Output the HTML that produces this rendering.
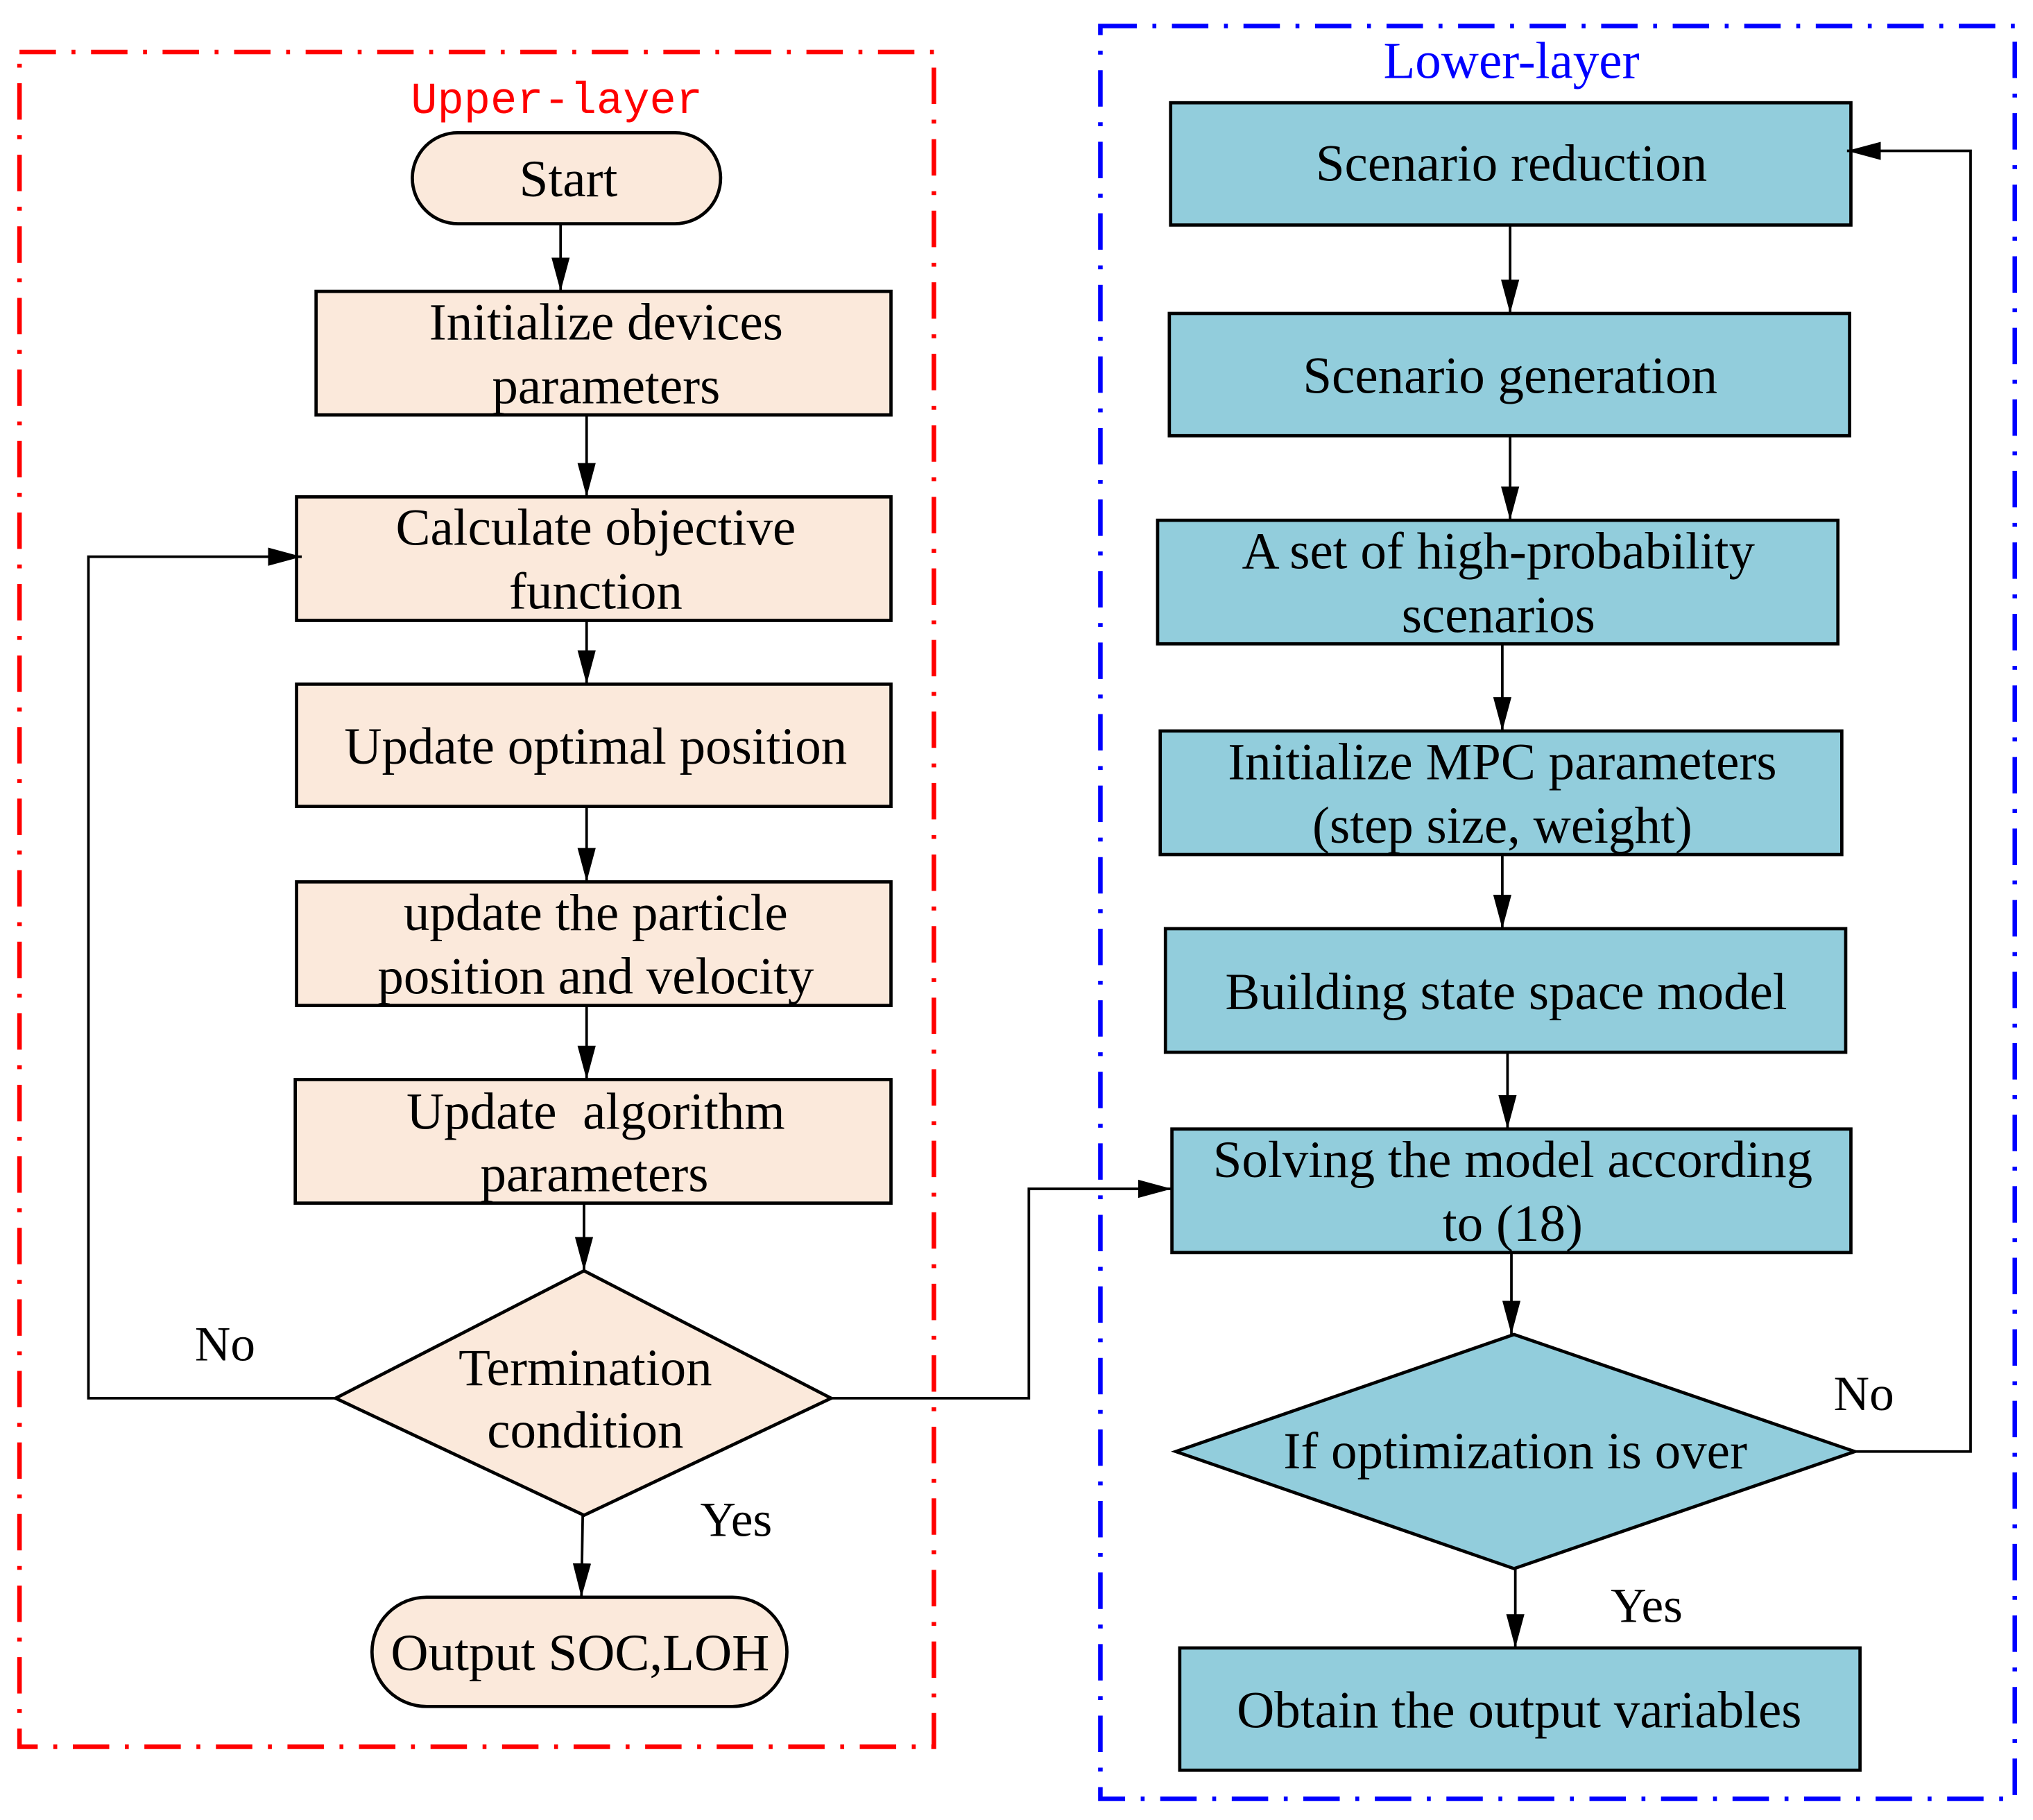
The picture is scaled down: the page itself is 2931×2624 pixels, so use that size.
<!DOCTYPE html>
<html><head><meta charset="utf-8"><style>html,body{margin:0;padding:0;background:#fff}</style></head>
<body>
<svg xmlns="http://www.w3.org/2000/svg" width="2931" height="2619" viewBox="0 0 1563 1396.6">
<defs>
<marker id="b" markerWidth="26" markerHeight="16" refX="26" refY="8" orient="auto" markerUnits="userSpaceOnUse">
<path d="M0,1 L26,8 L0,15 Z" fill="#000"/>
</marker>
</defs>
<g font-family="Liberation Serif, serif" font-size="40" text-anchor="middle" fill="#000">
<rect x="15" y="40" width="703" height="1303" fill="none" stroke="#ff0000" stroke-width="3.5" stroke-dasharray="28,12,3,12"/>
<rect x="846" y="20" width="703" height="1363" fill="none" stroke="#0000ff" stroke-width="3.5" stroke-dasharray="28,12,3,12"/>
<text x="428" y="87" fill="#ff0000" font-size="34" font-family="Liberation Mono, monospace">Upper-layer</text>
<text x="1162" y="60" fill="#0000ff" font-size="40">Lower-layer</text>

<g stroke="#000" stroke-width="2.5" fill="#fbe9db">
<rect x="317" y="102" width="237" height="70" rx="35"/>
<rect x="243" y="224" width="442" height="95"/>
<rect x="228" y="382" width="457" height="95"/>
<rect x="228" y="526" width="457" height="94"/>
<rect x="228" y="678" width="457" height="95"/>
<rect x="227" y="830" width="458" height="95"/>
<polygon points="449,977 639,1075 449,1165 258,1075"/>
<rect x="286" y="1228" width="319" height="84" rx="42"/>
</g>
<g stroke="#000" stroke-width="2.5" fill="#92cddc">
<rect x="900" y="79" width="523" height="94"/>
<rect x="899" y="241" width="523" height="94"/>
<rect x="890" y="400" width="523" height="95"/>
<rect x="892" y="562" width="524" height="95"/>
<rect x="896" y="714" width="523" height="95"/>
<rect x="901" y="868" width="522" height="95"/>
<polygon points="1164,1026 1426,1116 1164,1206 904,1116"/>
<rect x="907" y="1267" width="523" height="94"/>
</g>

<g stroke="#000" stroke-width="2" fill="none" marker-end="url(#b)">
<line x1="431" y1="172" x2="431" y2="224"/>
<line x1="451" y1="319" x2="451" y2="382"/>
<line x1="451" y1="477" x2="451" y2="526"/>
<line x1="451" y1="620" x2="451" y2="678"/>
<line x1="451" y1="773" x2="451" y2="830"/>
<line x1="449" y1="925" x2="449" y2="977"/>
<line x1="448" y1="1165" x2="447" y2="1228"/>
<polyline points="258,1075 68,1075 68,428 232,428"/>
<polyline points="639,1075 791,1075 791,914 901,914"/>
<line x1="1161" y1="173" x2="1161" y2="241"/>
<line x1="1161" y1="335" x2="1161" y2="400"/>
<line x1="1155" y1="495" x2="1155" y2="562"/>
<line x1="1155" y1="657" x2="1155" y2="714"/>
<line x1="1159" y1="809" x2="1159" y2="868"/>
<line x1="1162" y1="963" x2="1162" y2="1026"/>
<line x1="1165" y1="1206" x2="1165" y2="1267"/>
<polyline points="1426,1116 1515,1116 1515,116 1420,116"/>
</g>

<text x="437" y="151">Start</text>
<text x="466" y="261">Initialize devices</text>
<text x="466" y="310">parameters</text>
<text x="458" y="419">Calculate objective</text>
<text x="458" y="468">function</text>
<text x="458" y="587">Update optimal position</text>
<text x="458" y="715">update the particle</text>
<text x="458" y="764">position and velocity</text>
<text x="458" y="868" xml:space="preserve">Update  algorithm</text>
<text x="457" y="916">parameters</text>
<text x="450" y="1065">Termination</text>
<text x="450" y="1113">condition</text>
<text x="446" y="1284">Output SOC,LOH</text>
<text x="173" y="1046" font-size="38">No</text>
<text x="566" y="1181" font-size="38">Yes</text>

<text x="1162" y="139">Scenario reduction</text>
<text x="1161" y="302">Scenario generation</text>
<text x="1152" y="437">A set of high-probability</text>
<text x="1152" y="486">scenarios</text>
<text x="1155" y="599">Initialize MPC parameters</text>
<text x="1155" y="648">(step size, weight)</text>
<text x="1158" y="776">Building state space model</text>
<text x="1163" y="905">Solving the model according</text>
<text x="1163" y="954">to (18)</text>
<text x="1165" y="1129">If optimization is over</text>
<text x="1168" y="1328">Obtain the output variables</text>
<text x="1433" y="1084" font-size="38">No</text>
<text x="1266" y="1247" font-size="38">Yes</text>
</g>
</svg>
</body></html>
